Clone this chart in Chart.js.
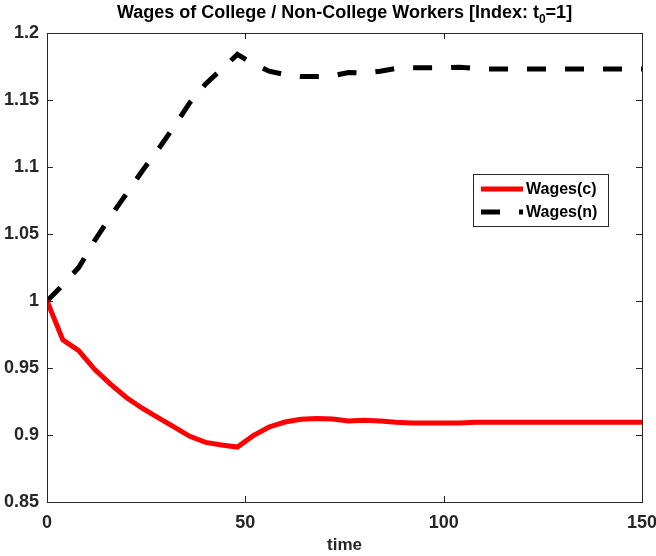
<!DOCTYPE html>
<html>
<head>
<meta charset="utf-8">
<script src="https://cdn.jsdelivr.net/npm/chart.js@4"></script>
<style>
  html, body { margin: 0; padding: 0; background: #fff; }
  #wrap { width: 656px; height: 556px; }
</style>
</head>
<body>
<div id="wrap"><canvas id="wages" width="656" height="556"></canvas></div>
<script>
// DATA
const times = [0, 4, 8, 12, 16, 20, 24, 28, 32, 36, 40, 44, 48, 52, 56, 60, 64, 68, 72, 76,
  80, 84, 88, 92, 96, 100, 104, 108, 112, 116, 120, 124, 128, 132, 136, 140, 144, 148, 150];
const wagesCollege = [1.0, 0.971, 0.963, 0.949, 0.938, 0.928, 0.920, 0.913, 0.906, 0.899,
  0.8945, 0.8925, 0.891, 0.8995, 0.906, 0.9097, 0.9118, 0.9123, 0.912, 0.9105,
  0.911, 0.9105, 0.9095, 0.909, 0.909, 0.909, 0.909, 0.9095, 0.9095, 0.9095,
  0.9095, 0.9095, 0.9095, 0.9095, 0.9095, 0.9095, 0.9095, 0.9095, 0.9095];
const wagesNonCollege = [1.0, 1.012, 1.025, 1.045, 1.063, 1.08, 1.097, 1.113, 1.13, 1.148,
  1.162, 1.173, 1.184, 1.177, 1.1715, 1.169, 1.1675, 1.1675, 1.168, 1.1705,
  1.170, 1.1715, 1.1735, 1.174, 1.174, 1.174, 1.1745, 1.1735, 1.1731, 1.1731,
  1.1731, 1.1731, 1.1731, 1.1731, 1.1731, 1.1731, 1.1731, 1.1731, 1.1731];
const seriesNames = ['Wages(c)', 'Wages(n)'];
const xTicks = [0, 50, 100, 150];
const yTicks = [0.85, 0.9, 0.95, 1, 1.05, 1.1, 1.15, 1.2];

const axisColor = '#262626';
const fontFamily = 'Arial, "Liberation Sans", Helvetica, sans-serif';

// TITLE, FRAME, INWARD TICKS AND LEGEND
const matlabLook = {
    id: 'matlabLook',
    afterDraw(chart){
        const ctx = chart.ctx;
        const a = chart.chartArea;
        const xs = chart.scales.x;
        const ys = chart.scales.y;
        ctx.save();

        // box
        ctx.strokeStyle = axisColor;
        ctx.lineWidth = 1;
        ctx.strokeRect(Math.round(a.left) + 0.5, Math.round(a.top) + 0.5,
            Math.round(a.right - a.left), Math.round(a.bottom - a.top));

        // ticks inside
        ctx.beginPath();
        xTicks.forEach(v => {
            const px = Math.round(xs.getPixelForValue(v)) + 0.5;
            ctx.moveTo(px, a.bottom); ctx.lineTo(px, a.bottom - 6);
            ctx.moveTo(px, a.top); ctx.lineTo(px, a.top + 6);
        });
        yTicks.forEach(v => {
            const py = Math.round(ys.getPixelForValue(v)) + 0.5;
            ctx.moveTo(a.left, py); ctx.lineTo(a.left + 6, py);
            ctx.moveTo(a.right, py); ctx.lineTo(a.right - 6, py);
        });
        ctx.stroke();

        // title with subscript
        const cx = (a.left + a.right) / 2;
        ctx.fillStyle = '#000';
        ctx.textBaseline = 'alphabetic';
        ctx.textAlign = 'left';
        const part1 = 'Wages of College / Non-College Workers [Index: t';
        const sub = '0';
        const part2 = '=1]';
        ctx.font = 'bold 18px ' + fontFamily;
        const w1 = ctx.measureText(part1).width;
        const w3 = ctx.measureText(part2).width;
        ctx.font = 'bold 12px ' + fontFamily;
        const w2 = ctx.measureText(sub).width;
        let x0 = cx - (w1 + w2 + w3) / 2;
        ctx.font = 'bold 18px ' + fontFamily;
        ctx.fillText(part1, x0, 18);
        ctx.font = 'bold 12px ' + fontFamily;
        ctx.fillText(sub, x0 + w1, 23);
        ctx.font = 'bold 18px ' + fontFamily;
        ctx.fillText(part2, x0 + w1 + w2, 18);

        // legend
        const lx = 473, ly = 174, lw = 135, lh = 52;
        ctx.fillStyle = '#fff';
        ctx.fillRect(lx, ly, lw, lh);
        ctx.strokeStyle = axisColor;
        ctx.lineWidth = 1;
        ctx.strokeRect(lx + 0.5, ly + 0.5, lw, lh);
        chart.data.datasets.forEach((ds, i) => {
            const yy = ly + 15 + i * 23;
            ctx.beginPath();
            ctx.strokeStyle = ds.borderColor;
            ctx.lineWidth = 5;
            ctx.setLineDash(ds.borderDash || []);
            ctx.moveTo(481, yy); ctx.lineTo(523, yy);
            ctx.stroke();
            ctx.setLineDash([]);
            ctx.fillStyle = '#000';
            ctx.font = 'bold 16px ' + fontFamily;
            ctx.textBaseline = 'middle';
            ctx.fillText(ds.label, 526, yy + 1);
        });
        ctx.restore();
    }
};

const toPoints = (xs, ys) => xs.map((x, i) => ({x: x, y: ys[i]}));

new Chart(document.getElementById('wages'), {
    type: 'line',
    data: {
        datasets: [{
            label: seriesNames[0],
            data: toPoints(times, wagesCollege),
            borderColor: '#ff0000',
            borderWidth: 5,
            pointRadius: 0,
            tension: 0
        }, {
            label: seriesNames[1],
            data: toPoints(times, wagesNonCollege),
            borderColor: '#000000',
            borderWidth: 5,
            borderDash: [19, 19],
            pointRadius: 0,
            tension: 0
        }]
    },
    options: {
        responsive: false,
        animation: false,
        layout: { padding: { top: 33, right: 14, left: 0, bottom: 0 } },
        plugins: {
            legend: { display: false },
            title: { display: false },
            tooltip: { enabled: false }
        },
        scales: {
            x: {
                type: 'linear',
                min: 0, max: 150,
                afterBuildTicks: s => { s.ticks = xTicks.map(v => ({value: v})); },
                afterFit: s => { s.height = 54; s.paddingLeft = 0; s.paddingRight = 0; },
                grid: { display: false, drawTicks: false },
                border: { display: false },
                ticks: {
                    padding: 10,
                    color: axisColor,
                    font: { family: fontFamily, size: 18, weight: 'bold' },
                    maxRotation: 0
                },
                title: {
                    display: true,
                    text: 'time',
                    color: axisColor,
                    padding: { top: 0, bottom: 0 },
                    font: { family: fontFamily, size: 17, weight: 'bold' }
                }
            },
            y: {
                min: 0.85, max: 1.2,
                afterBuildTicks: s => { s.ticks = yTicks.map(v => ({value: v})); },
                afterFit: s => { s.width = 47; s.paddingTop = 0; s.paddingBottom = 0; },
                grid: { display: false, drawTicks: false },
                border: { display: false },
                ticks: {
                    padding: 8,
                    color: axisColor,
                    font: { family: fontFamily, size: 18, weight: 'bold' },
                    callback: v => parseFloat(v.toFixed(2)).toString()
                }
            }
        }
    },
    plugins: [matlabLook]
});
</script>
</body>
</html>
